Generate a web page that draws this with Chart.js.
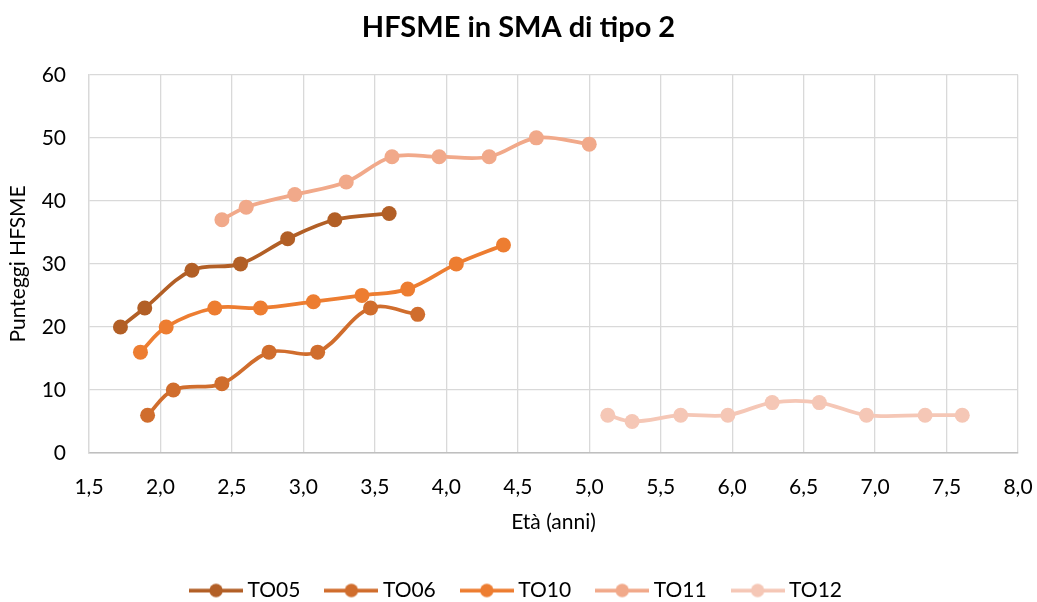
<!DOCTYPE html>
<html lang="it">
<head>
<meta charset="UTF-8">
<title>HFSME in SMA di tipo 2</title>
<script src="https://cdn.jsdelivr.net/npm/chart.js"></script>
<style>
    html, body { margin: 0; padding: 0; background: #fff; }
    #wrap { width: 1037px; height: 602px; position: relative; }
</style>
</head>
<body>
<div id="wrap"><canvas id="chart"></canvas></div>
<script>
// Età (anni) and punteggi for each patient
const to05Age = [1.72, 1.89, 2.22, 2.56, 2.89, 3.22, 3.60];
const to05Score = [20, 23, 29, 30, 34, 37, 38];

const to06Age = [1.91, 2.09, 2.43, 2.76, 3.10, 3.47, 3.80];
const to06Score = [6, 10, 11, 16, 16, 23, 22];

const to10Age = [1.86, 2.04, 2.38, 2.70, 3.07, 3.41, 3.73, 4.07, 4.40];
const to10Score = [16, 20, 23, 23, 24, 25, 26, 30, 33];

const to11Age = [2.43, 2.60, 2.94, 3.30, 3.62, 3.95, 4.30, 4.63, 5.00];
const to11Score = [37, 39, 41, 43, 47, 47, 47, 50, 49];

const to12Age = [5.13, 5.30, 5.64, 5.97, 6.28, 6.61, 6.94, 7.35, 7.61];
const to12Score = [6, 5, 6, 6, 8, 8, 6, 6, 6];

const seriesNames = ['TO05', 'TO06', 'TO10', 'TO11', 'TO12'];
const seriesColors = ['#B25F26', '#D06D2D', '#ED7D31', '#F1A98A', '#F5C7B6'];

const xTicks = [1.5, 2.0, 2.5, 3.0, 3.5, 4.0, 4.5, 5.0, 5.5, 6.0, 6.5, 7.0, 7.5, 8.0];
const yTicks = [0, 10, 20, 30, 40, 50, 60];

const FONT = 'Lato, "Open Sans", sans-serif';

function pairs(xs, ys) {
    return xs.map((x, i) => ({ x: x, y: ys[i] }));
}

// little "line with a dot" marker, like the Excel legend
function legendMarker(color) {
    const c = document.createElement('canvas');
    c.width = 54;
    c.height = 16;
    const g = c.getContext('2d');
    g.strokeStyle = color;
    g.lineWidth = 3.75;
    g.beginPath();
    g.moveTo(0, 8);
    g.lineTo(54, 8);
    g.stroke();
    g.fillStyle = color;
    g.beginPath();
    g.arc(27, 8, 6.7, 0, Math.PI * 2);
    g.fill();
    return c;
}

const allAges = [to05Age, to06Age, to10Age, to11Age, to12Age];
const allScores = [to05Score, to06Score, to10Score, to11Score, to12Score];

const datasets = seriesNames.map((name, i) => ({
    label: name,
    data: pairs(allAges[i], allScores[i]),
    showLine: true,
    borderColor: seriesColors[i],
    backgroundColor: seriesColors[i],
    borderWidth: 3.75,
    pointRadius: 7.5,
    pointHoverRadius: 7.5,
    pointBorderWidth: 0,
    tension: 0.35,
    pointStyle: 'circle',
    legendStyle: legendMarker(seriesColors[i])
}));

// shrink the legend box so it sits low like in the original
const legendHeightFix = {
    id: 'legendHeightFix',
    afterInit(chart) {
        const lg = chart.legend;
        const orig = lg.fit.bind(lg);
        lg.fit = function () {
            orig();
            this.height = 52;
        };
    }
};

new Chart(document.getElementById('chart'), {
    type: 'scatter',
    data: { datasets: datasets },
    plugins: [legendHeightFix],
    options: {
        responsive: true,
        maintainAspectRatio: false,
        animation: false,
        layout: { padding: { left: 19, right: 19, top: 0, bottom: 0 } },
        plugins: {
            title: {
                display: true,
                text: 'HFSME in SMA di tipo 2',
                color: '#000',
                font: { family: FONT, size: 29, weight: 'bold' },
                padding: { top: 10, bottom: 30 }
            },
            legend: {
                position: 'bottom',
                labels: {
                    usePointStyle: true,
                    pointStyleWidth: 42,
                    padding: 30,
                    color: '#000',
                    font: { family: FONT, size: 21 },
                    generateLabels(chart) {
                        return chart.data.datasets.map((d, i) => ({
                            text: d.label,
                            pointStyle: d.legendStyle,
                            fillStyle: d.backgroundColor,
                            strokeStyle: d.borderColor,
                            lineWidth: 0,
                            hidden: false,
                            datasetIndex: i,
                            fontColor: '#000'
                        }));
                    }
                }
            },
            tooltip: { enabled: false }
        },
        scales: {
            x: {
                type: 'linear',
                min: xTicks[0],
                max: xTicks[xTicks.length - 1],
                afterBuildTicks(scale) { scale.ticks = xTicks.map(v => ({ value: v })); },
                afterFit(scale) {
                    scale.height = 97;
                    scale.paddingLeft = 0;
                    scale.paddingRight = 0;
                },
                grid: { color: '#D9D9D9', lineWidth: 1.3, drawTicks: false },
                border: { color: '#BFBFBF', width: 1.5 },
                ticks: {
                    padding: 22,
                    color: '#000',
                    font: { family: FONT, size: 21 },
                    callback: v => v.toFixed(1).replace('.', ',')
                },
                title: {
                    display: true,
                    text: 'Età (anni)',
                    color: '#000',
                    font: { family: FONT, size: 21 },
                    padding: { top: 0, bottom: 15 }
                }
            },
            y: {
                type: 'linear',
                min: yTicks[0],
                max: yTicks[yTicks.length - 1],
                afterBuildTicks(scale) { scale.ticks = yTicks.map(v => ({ value: v })); },
                afterFit(scale) { scale.width = 70; },
                grid: { color: '#D9D9D9', lineWidth: 1.3, drawTicks: false },
                border: { color: '#D9D9D9', width: 1.3 },
                ticks: {
                    padding: 23,
                    color: '#000',
                    font: { family: FONT, size: 21 }
                },
                title: {
                    display: true,
                    text: 'Punteggi HFSME',
                    color: '#000',
                    font: { family: FONT, size: 21 },
                    padding: { top: -13, bottom: 0 }
                }
            }
        }
    }
});
</script>
</body>
</html>
